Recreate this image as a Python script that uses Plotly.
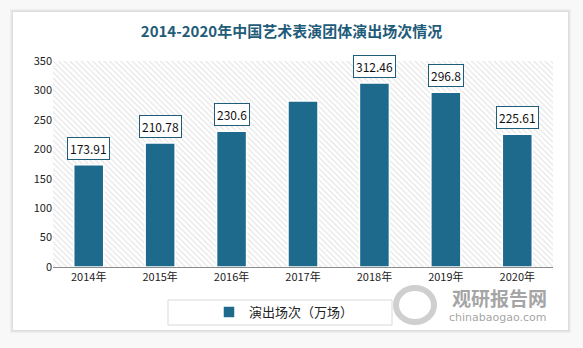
import plotly.graph_objects as go

years = ["2014年", "2015年", "2016年", "2017年", "2018年", "2019年", "2020年"]
values = [173.91, 210.78, 230.6, 282.0, 312.46, 296.8, 225.61]
labels = ["173.91", "210.78", "230.6", None, "312.46", "296.8", "225.61"]
series_name = "演出场次（万场）"
title = "2014-2020年中国艺术表演团体演出场次情况"
y_ticks = [0, 50, 100, 150, 200, 250, 300, 350]

BAR = "#1d6a8c"
TEAL = "#1f5c7a"
FONT = "Noto Sans CJK SC"
PW, PH = 500, 206  # plot area size in px

def px(x):
    return (x - 53) / PW

def py(y):
    return (267 - y) / PH

xs = list(range(len(years)))
fig = go.Figure()

# hatched plot background
fig.add_trace(go.Bar(
    x=[(len(years) - 1) / 2], y=[max(y_ticks)], width=[len(years)],
    marker=dict(color="white", line=dict(width=0),
                pattern=dict(shape="\\", fgcolor="#cccccc", bgcolor="white", size=4, solidity=0.3)),
    showlegend=False, hoverinfo="skip"))

fig.add_trace(go.Bar(
    x=xs, y=values, width=0.42, name=series_name,
    marker=dict(color=BAR, line=dict(color="white", width=1.5)),
    showlegend=True))

for x, v, lab in zip(xs, values, labels):
    if lab is None:
        continue
    fig.add_annotation(x=x, y=v, text=lab, showarrow=False, yanchor="bottom", yshift=5,
                       font=dict(family=FONT, size=12, color="#111"),
                       bgcolor="white", bordercolor=TEAL, borderwidth=1, borderpad=2)

# card with shadow
for i, c in enumerate(["#eeeeee", "#e6e6e6", "#dedede"]):
    d = 3 - i
    fig.add_shape(type="rect", xref="paper", yref="paper", layer="below",
                  x0=px(13 - d), x1=px(568 + d), y0=py(330 + d), y1=py(12 - d),
                  fillcolor=c, line=dict(width=0))
fig.add_shape(type="rect", xref="paper", yref="paper", layer="below",
              x0=px(13), x1=px(568), y0=py(330), y1=py(12),
              fillcolor="white", line=dict(width=0))

# legend box
fig.add_shape(type="rect", xref="paper", yref="paper",
              x0=px(168), x1=px(392), y0=py(325), y1=py(300),
              fillcolor="rgba(0,0,0,0)", line=dict(color="#d9d9d9", width=1))

# watermark
fig.add_shape(type="circle", xref="paper", yref="paper",
              x0=px(396), x1=px(434), y0=py(322), y1=py(288),
              fillcolor="rgba(0,0,0,0)", line=dict(color="rgba(175,175,175,0.6)", width=6))
fig.add_annotation(xref="paper", yref="paper", x=px(549), y=py(282), xanchor="right", yanchor="top",
                   text="<b>观研报告网</b>", showarrow=False,
                   font=dict(family=FONT, size=19, color="rgba(140,140,140,0.8)"))
fig.add_annotation(xref="paper", yref="paper", x=px(549), y=py(309), xanchor="right", yanchor="top",
                   text="chinabaogao.com", showarrow=False,
                   font=dict(family="DejaVu Sans", size=11, color="rgba(140,140,140,0.8)"))

fig.update_layout(
    width=583, height=348,
    margin=dict(l=53, r=30, t=61, b=81),
    paper_bgcolor="#f8f8f8", plot_bgcolor="white",
    barmode="overlay",
    title=dict(text=f"<b>{title}</b>", x=0.5, xanchor="center", y=0.908, yanchor="middle",
               font=dict(family=FONT, size=15, color=TEAL)),
    xaxis=dict(tickmode="array", tickvals=xs, ticktext=years, range=[-0.5, len(years) - 0.5],
               showgrid=False, zeroline=False, showline=True, linecolor="#8c8c8c", linewidth=1,
               ticks="", tickfont=dict(family=FONT, size=11, color="#222")),
    yaxis=dict(tickmode="array", tickvals=y_ticks, range=[0, max(y_ticks)],
               showgrid=False, zeroline=False, showline=False, ticks="",
               tickfont=dict(family=FONT, size=11, color="#222")),
    legend=dict(orientation="h", x=px(209), y=py(312), xanchor="left", yanchor="middle",
                bgcolor="rgba(0,0,0,0)", borderwidth=0,
                font=dict(family=FONT, size=13, color="#222"), itemwidth=30),
    font=dict(family=FONT),
)

fig.write_html("out.html")
